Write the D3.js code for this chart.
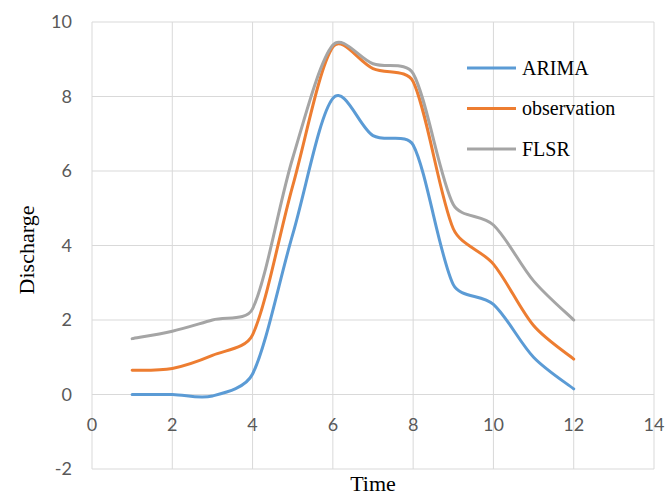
<!DOCTYPE html>
<html>
<head>
<meta charset="utf-8">
<script src="https://cdn.jsdelivr.net/npm/d3@7"></script>
<style>
  body { margin: 0; background: #fff; }
</style>
</head>
<body>
<div id="chart"></div>
<script>
// discharge comparison: ARIMA vs observation vs FLSR

const time = [1, 2, 3, 4, 5, 6, 7, 8, 9, 10, 11, 12];
const arima = [0.0, 0.0, -0.04, 0.55, 4.3, 7.95, 6.95, 6.7, 2.95, 2.42, 1.0, 0.15];
const observation = [0.65, 0.7, 1.05, 1.6, 5.6, 9.33, 8.75, 8.4, 4.45, 3.5, 1.85, 0.95];
const flsr = [1.5, 1.7, 2.0, 2.3, 6.35, 9.38, 8.88, 8.62, 5.1, 4.55, 3.05, 2.0];

const xTicks = [0, 2, 4, 6, 8, 10, 12, 14];
const yTicks = [-2, 0, 2, 4, 6, 8, 10];

const seriesNames = ["ARIMA", "observation", "FLSR"];
const seriesColors = ["#5B9BD5", "#ED7D31", "#A5A5A5"];
const seriesValues = [arima, observation, flsr];

const width = 667, height = 497;
const margin = { left: 92, right: 13, top: 22, bottom: 28 };

/**
 * Spreadsheet-like smoothing: Catmull-Rom bezier arms (1/6 of the chord
 * across neighbours), shortened when they get long next to a short segment.
 */
function smoothCurve(context) {
    let pts = [];
    return {
        areaStart() {},
        areaEnd() {},
        lineStart() { pts = []; },
        point(x, y) { pts.push([+x, +y]); },
        lineEnd() {
            if (!pts.length) return;
            context.moveTo(pts[0][0], pts[0][1]);
            let arm = (a, b, segLen) => {
                let dx = (b[0] - a[0]) / 6, dy = (b[1] - a[1]) / 6;
                let len = Math.hypot(dx, dy), lim = segLen * 0.34;
                if (len > lim && len > 0) { dx *= lim / len; dy *= lim / len; }
                return [dx, dy];
            };
            for (let i = 0; i < pts.length - 1; i++) {
                let p0 = pts[Math.max(i - 1, 0)], p1 = pts[i], p2 = pts[i + 1], p3 = pts[Math.min(i + 2, pts.length - 1)];
                let seg = Math.hypot(p2[0] - p1[0], p2[1] - p1[1]);
                let a1 = arm(p0, p2, seg), a2 = arm(p1, p3, seg);
                context.bezierCurveTo(p1[0] + a1[0], p1[1] + a1[1], p2[0] - a2[0], p2[1] - a2[1], p2[0], p2[1]);
            }
        }
    };
}

let svg = d3.select('#chart')
    .append('svg')
    .attr('width', width)
    .attr('height', height);

let xScale = d3.scaleLinear()
    .domain([0, 14])
    .range([margin.left, width - margin.right]);

let yScale = d3.scaleLinear()
    .domain([-2, 10])
    .range([height - margin.bottom, margin.top]);

//Gridlines
let grid = svg.append('g').attr('id', 'grid');

grid.selectAll('line.h')
    .data(yTicks)
    .join('line')
    .attr('class', 'h')
    .attr('x1', xScale(0))
    .attr('x2', xScale(14))
    .attr('y1', d => yScale(d))
    .attr('y2', d => yScale(d))
    .attr('stroke', '#D9D9D9')
    .attr('stroke-width', 1);

grid.selectAll('line.v')
    .data(xTicks)
    .join('line')
    .attr('class', 'v')
    .attr('x1', d => xScale(d))
    .attr('x2', d => xScale(d))
    .attr('y1', yScale(-2))
    .attr('y2', yScale(10))
    .attr('stroke', '#D9D9D9')
    .attr('stroke-width', 1);

//Tick labels
svg.append('g')
    .selectAll('text')
    .data(yTicks)
    .join('text')
    .attr('x', 72)
    .attr('y', d => yScale(d))
    .attr('dy', '0.35em')
    .attr('text-anchor', 'end')
    .attr('font-family', 'Lato, "Open Sans", sans-serif')
    .attr('font-size', '18px')
    .attr('fill', '#595959')
    .text(d => d);

svg.append('g')
    .selectAll('text')
    .data(xTicks)
    .join('text')
    .attr('x', d => xScale(d))
    .attr('y', 425)
    .attr('dy', '0.35em')
    .attr('text-anchor', 'middle')
    .attr('font-family', 'Lato, "Open Sans", sans-serif')
    .attr('font-size', '18px')
    .attr('fill', '#595959')
    .text(d => d);

//Axis titles
svg.append('text')
    .attr('transform', 'translate(34, 250) rotate(-90)')
    .attr('text-anchor', 'middle')
    .attr('font-family', '"Liberation Serif", "Times New Roman", serif')
    .attr('font-size', '22px')
    .attr('fill', '#000')
    .text('Discharge');

svg.append('text')
    .attr('x', 373)
    .attr('y', 491)
    .attr('text-anchor', 'middle')
    .attr('font-family', '"Liberation Serif", "Times New Roman", serif')
    .attr('font-size', '22px')
    .attr('fill', '#000')
    .text('Time');

//Lines
let lineGen = d3.line()
    .x((d, i) => xScale(time[i]))
    .y(d => yScale(d))
    .curve(smoothCurve);

svg.append('g')
    .selectAll('path')
    .data(seriesValues)
    .join('path')
    .attr('d', d => lineGen(d))
    .attr('fill', 'none')
    .attr('stroke', (d, i) => seriesColors[i])
    .attr('stroke-width', 3)
    .attr('stroke-linejoin', 'round')
    .attr('stroke-linecap', 'round');

//Legend
let legend = svg.append('g')
    .selectAll('g')
    .data(seriesNames)
    .join('g')
    .attr('transform', (d, i) => `translate(467, ${68 + i * 40.5})`);

legend.append('line')
    .attr('x1', 0)
    .attr('x2', 49)
    .attr('y1', 0)
    .attr('y2', 0)
    .attr('stroke', (d, i) => seriesColors[i])
    .attr('stroke-width', 3);

legend.append('text')
    .attr('x', 55)
    .attr('y', 0)
    .attr('dy', '0.33em')
    .attr('font-family', '"Liberation Serif", "Times New Roman", serif')
    .attr('font-size', '20px')
    .attr('fill', '#000')
    .text(d => d);
</script>
</body>
</html>
